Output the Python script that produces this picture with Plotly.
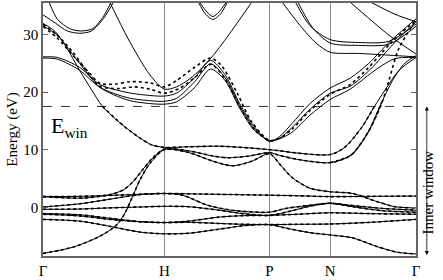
import plotly.graph_objects as go

# high-symmetry points (bcc path)
kpt_labels = ["Γ", "H", "P", "N", "Γ"]
kpt_pos = [0.0, 1.0, 1.866, 2.366, 3.073]

E_win = 17.5

# DFT bands (solid): lists of (k, E)
band_L1 = [(0,-8.0),(0.25,-6.9),(0.47,-5.0),(0.6,-3.2),(0.67,-1.2),(0.73,1.5),(0.8,4.8),(0.88,7.6),(1.0,10.0),
           (1.2,9.5),(1.4,8.0),(1.56,7.2),(1.72,8.0),(1.866,9.3),(1.95,7.5),(2.05,5.2),(2.2,3.3),(2.366,2.7),
           (2.55,2.4),(2.75,1.0),(2.9,0.1),(3.073,-0.1)]
band_L2 = [(0,1.85),(0.33,1.6),(0.55,2.2),(0.66,3.0),(0.74,4.4),(0.82,6.5),(0.91,8.7),(1.0,10.1),
           (1.2,9.8),(1.4,8.9),(1.52,8.6),(1.7,8.9),(1.866,9.5),(1.95,9.0),(2.1,8.3),(2.366,7.75),
           (2.54,9.1),(2.68,13.1),(2.79,18.2),(2.88,22.0),(2.98,25.0),(3.073,26.3)]
band_A = [(0,1.85),(0.3,1.9),(0.6,2.1),(0.85,2.3),(1.0,2.4),(1.3,2.3),(1.6,2.2),(1.866,2.1),
          (2.1,2.0),(2.366,1.85),(2.7,1.9),(3.073,1.95)]
band_L3 = [(0,-2.1),(0.3,-2.4),(0.55,-3.3),(0.8,-4.3),(1.0,-4.6),(1.2,-4.5),(1.45,-3.8),(1.65,-3.2),(1.866,-3.0),
           (2.0,-3.6),(2.2,-4.4),(2.366,-4.8),(2.55,-5.3),(2.75,-6.8),(2.92,-7.8),(3.073,-8.1)]
band_L4 = [(0,-1.1),(0.3,-1.3),(0.55,-1.9),(0.8,-2.5),(1.0,-2.65),(1.2,-2.6),(1.45,-2.8),(1.65,-2.95),(1.866,-3.0),
           (2.1,-2.95),(2.366,-2.9),(2.7,-2.6),(3.073,-2.1)]
band_L5 = [(0,-0.35),(0.3,-0.3),(0.55,-0.1),(0.8,0.05),(1.0,0.17),(1.2,0.1),(1.45,-0.5),(1.65,-1.1),(1.866,-1.4),
           (2.05,-0.6),(2.2,0.2),(2.366,0.7),(2.55,0.1),(2.8,-0.6),(3.073,-0.85)]
band_L6 = [(0,0.05),(0.3,0.6),(0.55,1.4),(0.8,2.2),(1.0,2.4),(1.15,2.1),(1.35,0.4),(1.55,-0.5),(1.866,-0.85),
           (2.0,-0.2),(2.2,0.35),(2.366,0.7),(2.55,0.3),(2.8,-0.2),(3.073,-0.5)]
band_L7 = [(0,-1.2),(0.3,-1.5),(0.55,-2.1),(0.8,-2.5),(1.0,-2.65),(1.2,-2.4),(1.45,-1.7),(1.65,-1.45),(1.866,-1.4),
           (2.1,-1.2),(2.366,-0.95),(2.7,-1.1),(3.073,-1.2)]
band_M = [(0,31.9),(0.1,30.5),(0.2,27.5),(0.3,23.8),(0.4,20.4),(0.49,17.5),(0.66,14.2),(0.8,12.0),(0.9,10.8),(1.0,10.4),
          (1.2,10.5),(1.45,10.6),(1.7,10.3),(1.866,10.0),(1.95,9.8),(2.1,9.4),(2.366,9.15),
          (2.48,10.3),(2.62,13.7),(2.73,17.5),(2.82,20.4),(2.93,23.7),(3.073,26.0)]
band_U1 = [(0.55,35.6),(0.7,29.3),(0.88,23.0),(1.0,20.5),(1.1,20.9),(1.21,22.3),(1.3,24.0),(1.4,26.3),(1.55,30.5),(1.72,35.6)]
band_U2 = [(0,26.1),(0.12,26.0),(0.3,24.3),(0.47,21.3),(0.7,19.9),(0.88,19.4),(1.0,19.3),(1.1,19.8),(1.25,22.5),(1.38,25.5),
           (1.5,23.0),(1.62,18.0),(1.74,14.0),(1.866,11.4),(1.95,12.3),(2.05,14.5),(2.2,18.0),(2.366,20.7),
           (2.53,22.4),(2.68,24.9),(2.86,28.8),(3.073,32.7)]
band_U3 = [(0,25.9),(0.12,25.7),(0.3,23.8),(0.47,20.8),(0.7,19.0),(0.88,18.5),(1.0,18.4),(1.1,18.9),(1.25,21.8),(1.38,24.9),
           (1.5,22.5),(1.62,17.6),(1.74,13.7),(1.866,11.5),(1.95,12.0),(2.05,13.8),(2.2,17.0),(2.366,19.8),
           (2.53,21.0),(2.7,24.0),(2.88,28.2),(3.073,32.2)]
band_U4 = [(0,31.5),(0.12,29.8),(0.3,25.0),(0.47,20.8),(0.7,18.6),(0.88,18.0),(1.0,17.9),(1.1,18.3),(1.25,20.8),(1.38,24.0),
           (1.5,22.0),(1.62,17.2),(1.74,13.4),(1.866,11.6),(1.95,11.9),(2.05,13.0),(2.2,16.0),(2.366,18.7),
           (2.53,20.5),(2.75,24.0),(2.9,25.8),(3.073,26.0)]
band_BigU1 = [(0,33.4),(0.1,32.0),(0.2,30.6),(0.3,30.2),(0.4,30.6),(0.5,32.8),(0.58,35.6)]
band_BigU2 = [(0.05,35.6),(0.12,32.6),(0.22,31.0),(0.31,30.6),(0.41,31.0),(0.5,33.2),(0.56,35.6)]
band_SmallU1 = [(1.28,35.6),(1.34,33.5),(1.40,32.6),(1.46,33.5),(1.52,35.6)]
band_SmallU2 = [(1.29,35.6),(1.35,33.9),(1.40,33.1),(1.45,33.9),(1.51,35.6)]
band_Ntop1 = [(1.97,35.6),(2.12,31.5),(2.25,28.5),(2.366,26.9),(2.6,26.7),(2.85,26.4),(3.073,26.1)]
band_Ntop2 = [(2.08,35.6),(2.2,31.5),(2.366,29.1),(2.6,28.6),(2.85,28.8),(3.073,31.8)]
band_Ntop3 = [(2.1,35.6),(2.22,31.2),(2.366,28.5),(2.6,28.1),(2.85,28.3),(3.073,31.4)]
band_NGtop1 = [(2.53,35.6),(2.7,32.5),(2.86,29.7),(3.073,26.6)]
band_NGtop2 = [(2.7,35.6),(2.9,33.5),(3.073,32.2)]

# Wannier-interpolated bands (dotted) that leave the DFT bands above E_win
wann_W1 = [(0,31.4),(0.12,29.3),(0.25,26.3),(0.37,23.6),(0.47,21.5),(0.6,21.4),(0.72,21.8),(0.88,21.6),(1.0,20.9),
           (1.1,22.0),(1.25,24.3),(1.38,25.9),(1.47,24.6),(1.6,19.8),(1.72,14.8),(1.866,11.6),(1.95,12.0),
           (2.05,13.5),(2.2,16.8),(2.366,19.6),(2.53,21.3),(2.68,24.2),(2.86,28.4),(3.073,32.5)]
wann_W1b = [(0,31.8),(0.12,29.8),(0.25,26.8),(0.37,23.4),(0.47,21.0),(0.62,20.6),(0.75,20.9),(0.88,20.5),(1.0,19.8),
            (1.12,20.6),(1.25,22.5),(1.38,24.8),(1.5,22.3),(1.62,17.5),(1.74,13.5),(1.866,11.4)]
wann_W2 = [(2.366,7.75),(2.54,9.1),(2.68,13.1),(2.79,18.0),(2.85,22.0),(2.93,27.5),(3.073,32.5)]

solid_bands = [band_L1, band_L2, band_A, band_L3, band_L4, band_L5, band_L6, band_L7, band_M,
               band_U1, band_U2, band_U3, band_U4, band_BigU1, band_BigU2, band_SmallU1, band_SmallU2,
               band_Ntop1, band_Ntop2, band_Ntop3, band_NGtop1, band_NGtop2]
low_bands = [band_L1, band_A, band_L3, band_L4, band_L5, band_L6, band_L7]
dotted_bands = [wann_W1, wann_W1b, wann_W2]

FONT = "Times New Roman, Liberation Serif, DejaVu Serif, serif"
fig = go.Figure()

def add(band, dash=None, width=1.0):
    fig.add_trace(go.Scatter(
        x=[p[0] for p in band], y=[p[1] for p in band], mode="lines",
        line=dict(color="black", width=width, dash=dash, shape="spline", smoothing=0.8),
        hoverinfo="skip", showlegend=False, cliponaxis=True))

for b in solid_bands:
    add(b, width=1.0)
for b in low_bands:
    add(b, dash="dot", width=1.6)
for b in (band_M, band_L2):
    add([p for p in b if p[1] <= 18.5], dash="dot", width=1.6)
for b in dotted_bands:
    add(b, dash="dot", width=1.6)

# E_win line
fig.add_trace(go.Scatter(x=[kpt_pos[0], kpt_pos[-1]], y=[E_win, E_win], mode="lines",
                         line=dict(color="black", width=0.8, dash="dash"),
                         hoverinfo="skip", showlegend=False))

fig.add_annotation(x=0.05, y=14.0, xref="x", yref="y", text="E<sub>win</sub>", showarrow=False,
                   xanchor="left", yanchor="middle", font=dict(family=FONT, size=22, color="black"))

# inner window arrow
fig.add_annotation(x=1.029, y=E_win, xref="paper", yref="y", ax=0, ay=150, axref="pixel", ayref="pixel",
                   text="", showarrow=True, arrowhead=2, arrowsize=1, arrowwidth=0.8,
                   arrowside="end+start", arrowcolor="black")
fig.add_annotation(x=1.058, y=2.5, xref="paper", yref="y", text="Inner window", showarrow=False,
                   textangle=-90, font=dict(family=FONT, size=15, color="black"))

fig.update_layout(
    width=443, height=280,
    margin=dict(l=43, r=27, t=1, b=19),
    paper_bgcolor="white", plot_bgcolor="white",
    font=dict(family=FONT, size=15, color="black"),
    xaxis=dict(range=[kpt_pos[0], kpt_pos[-1]], tickvals=kpt_pos, ticktext=kpt_labels,
               showgrid=True, gridcolor="#8a8a8a", gridwidth=1, ticks="", zeroline=False,
               showline=True, linecolor="#666666", linewidth=1.5, mirror=True,
               tickfont=dict(family=FONT, size=15)),
    yaxis=dict(range=[-8.45, 35.45], tickvals=[0, 10, 20, 30], showgrid=False, zeroline=False,
               ticks="inside", ticklen=5, tickcolor="#666666",
               showline=True, linecolor="#666666", linewidth=1.5, mirror="ticks",
               title=dict(text="Energy (eV)", font=dict(family=FONT, size=15), standoff=2),
               tickfont=dict(family=FONT, size=15)),
)

fig.write_html("out.html", config={"displayModeBar": False},
               post_script="document.body.style.margin='0';document.body.style.overflow='hidden';")
